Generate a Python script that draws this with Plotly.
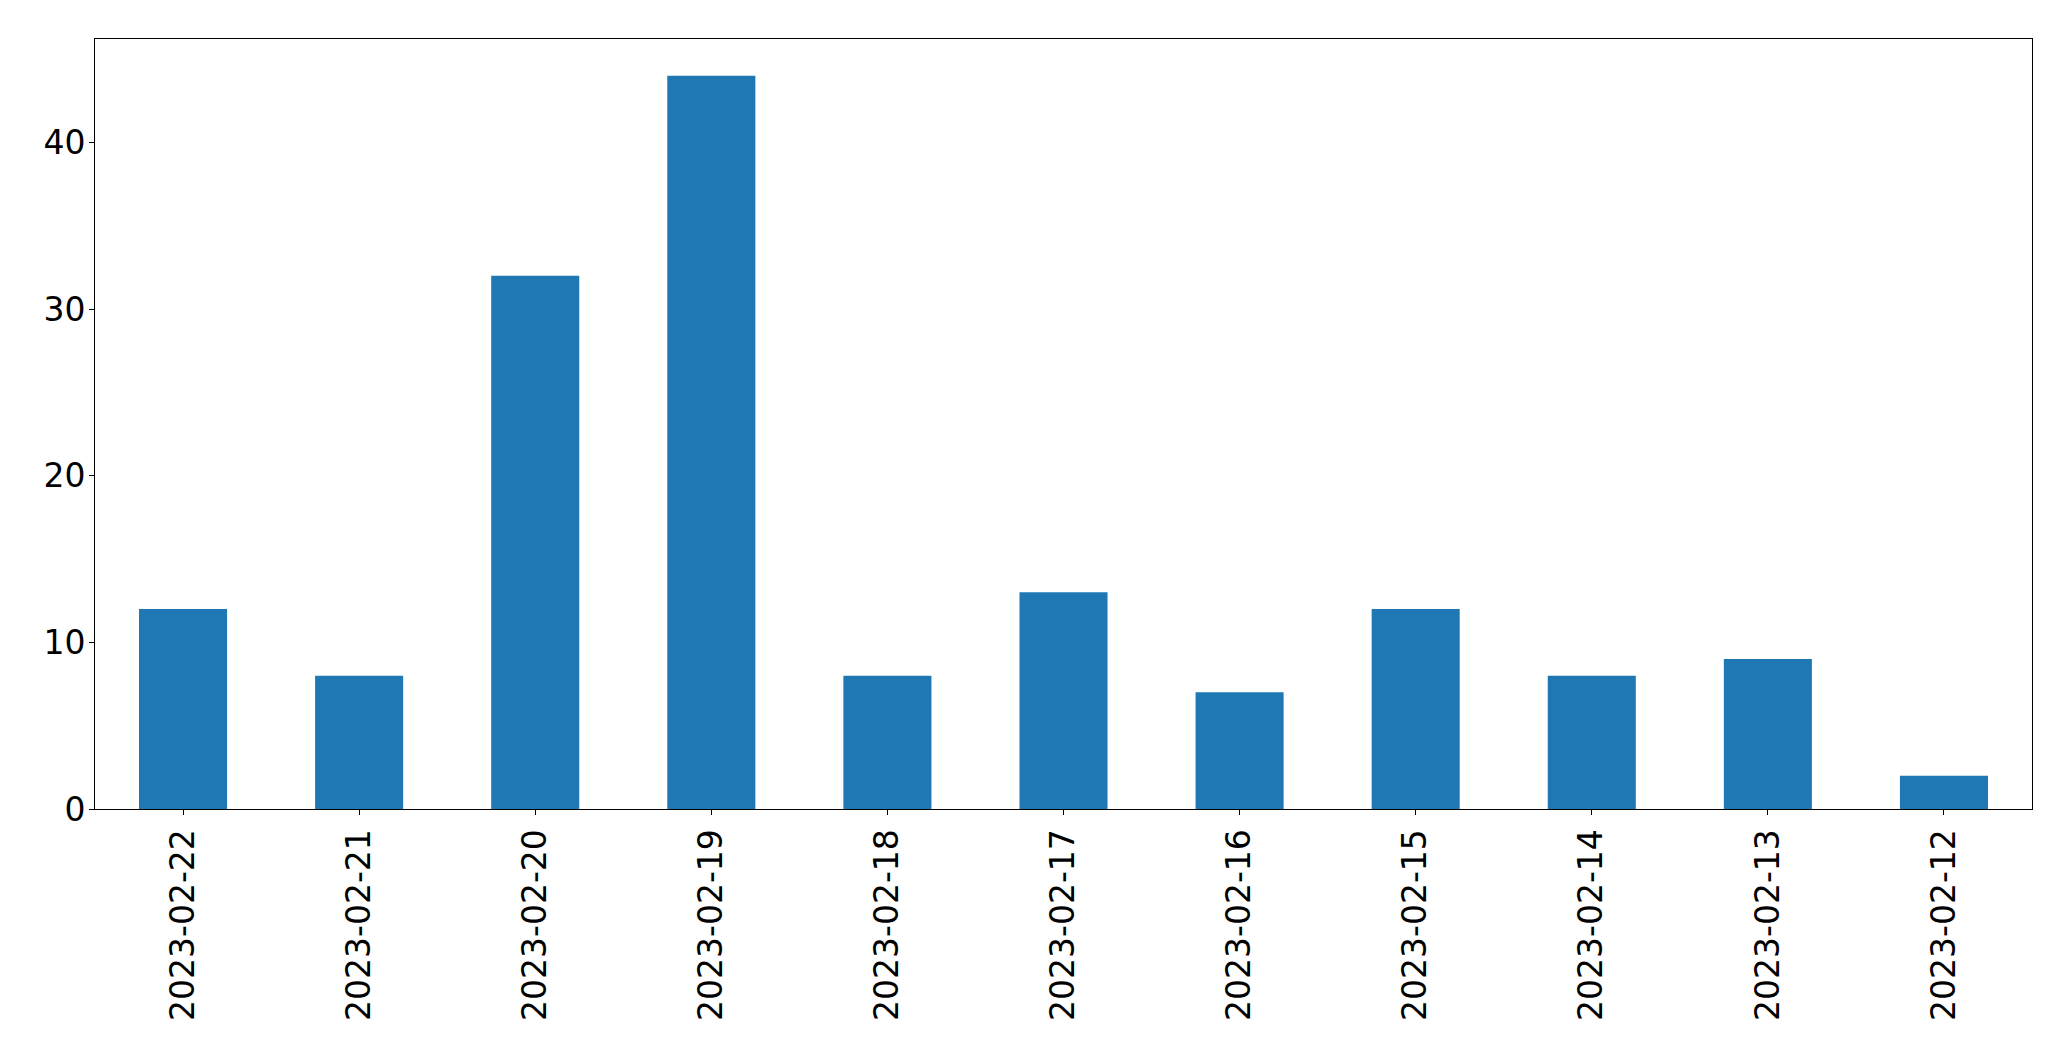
import plotly.graph_objects as go

dates = ["2023-02-22", "2023-02-21", "2023-02-20", "2023-02-19", "2023-02-18",
         "2023-02-17", "2023-02-16", "2023-02-15", "2023-02-14", "2023-02-13",
         "2023-02-12"]
counts = [12, 8, 32, 44, 8, 13, 7, 12, 8, 9, 2]
y_ticks = [0, 10, 20, 30, 40]

fig = go.Figure(go.Bar(x=dates, y=counts, width=0.5, marker=dict(color="#1f77b4", line=dict(width=0))))

fig.update_layout(
    width=2055, height=1045,
    margin=dict(l=87, r=31, t=31, b=244, pad=0),
    paper_bgcolor="white", plot_bgcolor="white",
    font=dict(family="DejaVu Sans", size=33, color="black"),
    showlegend=False,
    bargap=0.5,
)
fig.update_xaxes(
    type="category", range=[-0.5, len(dates) - 0.5],
    tickangle=-90, ticks="outside", ticklen=5, tickwidth=1, tickcolor="black",
    showline=True, linecolor="black", linewidth=1, mirror=True,
    showgrid=False, zeroline=False, ticklabelstandoff=1,
)
fig.update_yaxes(
    range=[0, max(counts) * 1.05], tickvals=y_ticks,
    ticks="outside", ticklen=5, tickwidth=1, tickcolor="black",
    showline=True, linecolor="black", linewidth=1, mirror=True,
    showgrid=False, zeroline=False, ticklabelstandoff=-3,
)
fig.write_html("out.html")
